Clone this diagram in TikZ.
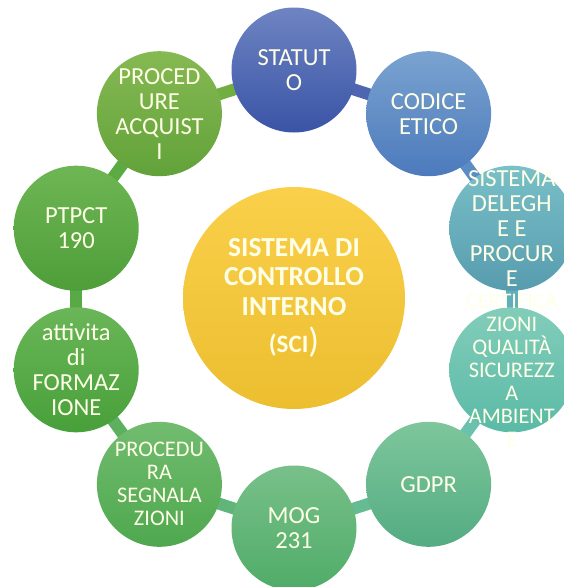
\documentclass[tikz,border=0pt]{standalone}
\usepackage{fontspec}
\setmainfont{Carlito}
\usetikzlibrary{backgrounds}
\definecolor{txt}{RGB}{255,255,232}
\definecolor{cAt}{RGB}{110,132,194}\definecolor{cAb}{RGB}{58,84,166}\definecolor{cA}{RGB}{78,102,178}
\definecolor{cBt}{RGB}{122,163,208}\definecolor{cBb}{RGB}{76,122,188}\definecolor{cB}{RGB}{92,140,198}
\definecolor{cCt}{RGB}{122,192,200}\definecolor{cCb}{RGB}{86,156,174}\definecolor{cC}{RGB}{99,174,188}
\definecolor{cDt}{RGB}{130,205,186}\definecolor{cDb}{RGB}{90,186,166}\definecolor{cD}{RGB}{106,194,174}
\definecolor{cEt}{RGB}{126,198,156}\definecolor{cEb}{RGB}{84,172,130}\definecolor{cE}{RGB}{102,188,146}
\definecolor{cFt}{RGB}{120,192,138}\definecolor{cFb}{RGB}{80,172,104}\definecolor{cF}{RGB}{96,182,120}
\definecolor{cGt}{RGB}{114,188,112}\definecolor{cGb}{RGB}{78,168,78}\definecolor{cG}{RGB}{92,176,94}
\definecolor{cHt}{RGB}{106,182,88}\definecolor{cHb}{RGB}{72,160,58}\definecolor{cH}{RGB}{88,170,70}
\definecolor{cIt}{RGB}{110,182,84}\definecolor{cIb}{RGB}{78,158,58}\definecolor{cI}{RGB}{92,170,66}
\definecolor{cJt}{RGB}{134,185,82}\definecolor{cJb}{RGB}{98,162,58}\definecolor{cJ}{RGB}{114,174,66}
\definecolor{cSt}{RGB}{250,208,74}\definecolor{cSb}{RGB}{236,190,48}
\begin{document}
\begin{tikzpicture}[x=1pt,y=-1pt,
  bub/.style={circle, minimum size=125pt, inner sep=0pt},
  lbl/.style={text=txt, align=center, inner sep=0pt, font=\fontsize{24.5}{25}\selectfont},
  small/.style={font=\fontsize{22.3}{23}\selectfont},
  link/.style={line width=12pt}]
\useasboundingbox (0,0) rectangle (564,587);
\node[circle, minimum size=222pt, inner sep=0pt, top color=cSt, bottom color=cSb, text=txt,
  align=center, font=\bfseries\fontsize{27.5}{29.5}\selectfont] (sci) at (294,298)
  {SISTEMA DI\\CONTROLLO\\INTERNO\\[8pt]\fontsize{25}{30}\selectfont(SCI\mdseries\fontsize{35}{30}\selectfont)};
\node[bub, top color=cAt, bottom color=cAb, label={[lbl]center:STATUT\\O}] (a) at (294,70) {};
\node[bub, top color=cBt, bottom color=cBb, label={[lbl]center:CODICE\\ETICO}] (b) at (428.6,113.7) {};
\node[bub, top color=cCt, bottom color=cCb, label={[lbl]center:SISTEMA\\DELEGH\\E E\\PROCUR\\E}] (c) at (511.8,228.2) {};
\node[bub, top color=cDt, bottom color=cDb, label={[lbl,small]center:CERTIFICA\\ZIONI\\QUALITÀ\\SICUREZZ\\A\\AMBIENT\\E}] (d) at (511.8,369.8) {};
\node[bub, top color=cEt, bottom color=cEb, label={[lbl]center:GDPR}] (e) at (428.6,484.3) {};
\node[bub, top color=cFt, bottom color=cFb, label={[lbl]center:MOG\\231}] (f) at (294,528) {};
\node[bub, top color=cGt, bottom color=cGb, label={[lbl,small]center:PROCEDU\\RA\\SEGNALA\\ZIONI}] (g) at (159.4,484.3) {};
\node[bub, top color=cHt, bottom color=cHb, label={[lbl]center:attivita\\di\\FORMAZ\\IONE}] (h) at (76.2,369.8) {};
\node[bub, top color=cIt, bottom color=cIb, label={[lbl]center:PTPCT\\190}] (i) at (76.2,228.2) {};
\node[bub, top color=cJt, bottom color=cJb, label={[lbl]center:PROCED\\URE\\ACQUIST\\I}] (j) at (159.4,113.7) {};
\begin{scope}[on background layer]
\draw[link, cA] (a.center) -- (b.center);
\draw[link, cB] (b.center) -- (c.center);
\draw[link, cC] (c.center) -- (d.center);
\draw[link, cD] (d.center) -- (e.center);
\draw[link, cE] (e.center) -- (f.center);
\draw[link, cF] (f.center) -- (g.center);
\draw[link, cG] (g.center) -- (h.center);
\draw[link, cH] (h.center) -- (i.center);
\draw[link, cI] (i.center) -- (j.center);
\draw[link, cJ] (j.center) -- (a.center);
\end{scope}
\end{tikzpicture}
\end{document}
